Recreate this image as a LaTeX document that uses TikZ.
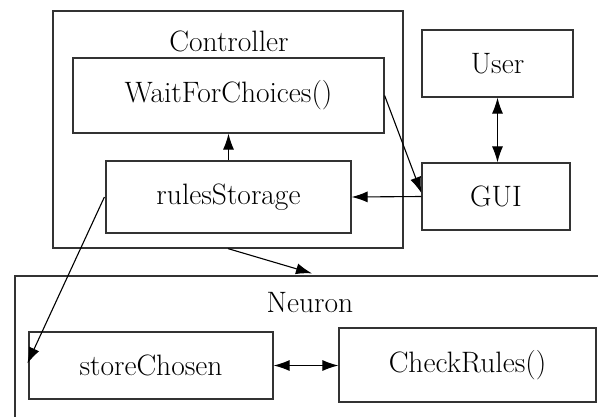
\documentclass[tikz,border=0pt]{standalone}
\usepackage{fontspec}
\usetikzlibrary{arrows.meta,calc}
\tikzset{
  box/.style={draw=black!80, line width=1.2pt, rectangle, inner sep=0pt, font=\fontsize{29.5}{34}\selectfont},
  conn/.style={draw=black, line width=1.1pt, -{Latex[length=16pt,width=11pt]}},
  biconn/.style={draw=black, line width=1.1pt, {Latex[length=16pt,width=11pt]}-{Latex[length=16pt,width=11pt]}},
  lbl/.style={font=\fontsize{29.5}{34}\selectfont, inner sep=0pt}
}
\begin{document}
\begin{tikzpicture}[x=1pt,y=-1pt]
\useasboundingbox (0,0) rectangle (598,416);
\clip (0,0) rectangle (598,416);
% containers
\node[box, minimum width=350pt, minimum height=237pt] (ctrl) at (228,129.5) {};
\node[lbl] (ctrllbl) at (229,41) {Controller};
\node[box, minimum width=590pt, minimum height=164pt] (neuron) at (310,358) {};
\node[lbl] (neuronlbl) at (310,303) {Neuron};
% inner boxes
\node[box, minimum width=311pt, minimum height=75pt] (wait) at (228.5,95.5) {WaitForChoices()};
\node[box, minimum width=245pt, minimum height=72pt] (rules) at (228.5,197) {rulesStorage};
\node[box, minimum width=151pt, minimum height=67pt] (user) at (497.5,63.5) {User};
\node[box, minimum width=148pt, minimum height=67pt] (gui) at (496,196.5) {GUI};
\node[box, minimum width=244pt, minimum height=67pt] (store) at (151,365.5) {storeChosen};
\node[box, minimum width=257pt, minimum height=74pt] (check) at (467.5,365) {CheckRules()};
% connectors
\draw[conn] (wait.east) -- ([yshift=3.5pt]gui.west);
\draw[conn] (gui.west) -- (rules.east);
\draw[conn] (rules.north) -- (wait.south);
\draw[biconn] (user.south) -- (user.south |- gui.north);
\draw[conn] (ctrl.south) -- ([xshift=2pt,yshift=2pt]neuron.north);
\draw[conn] ([xshift=-1pt]rules.west) -- ([xshift=-1pt,yshift=2pt]store.west);
\draw[biconn] (store.east) -- (store.east -| check.west);
\end{tikzpicture}
\end{document}
